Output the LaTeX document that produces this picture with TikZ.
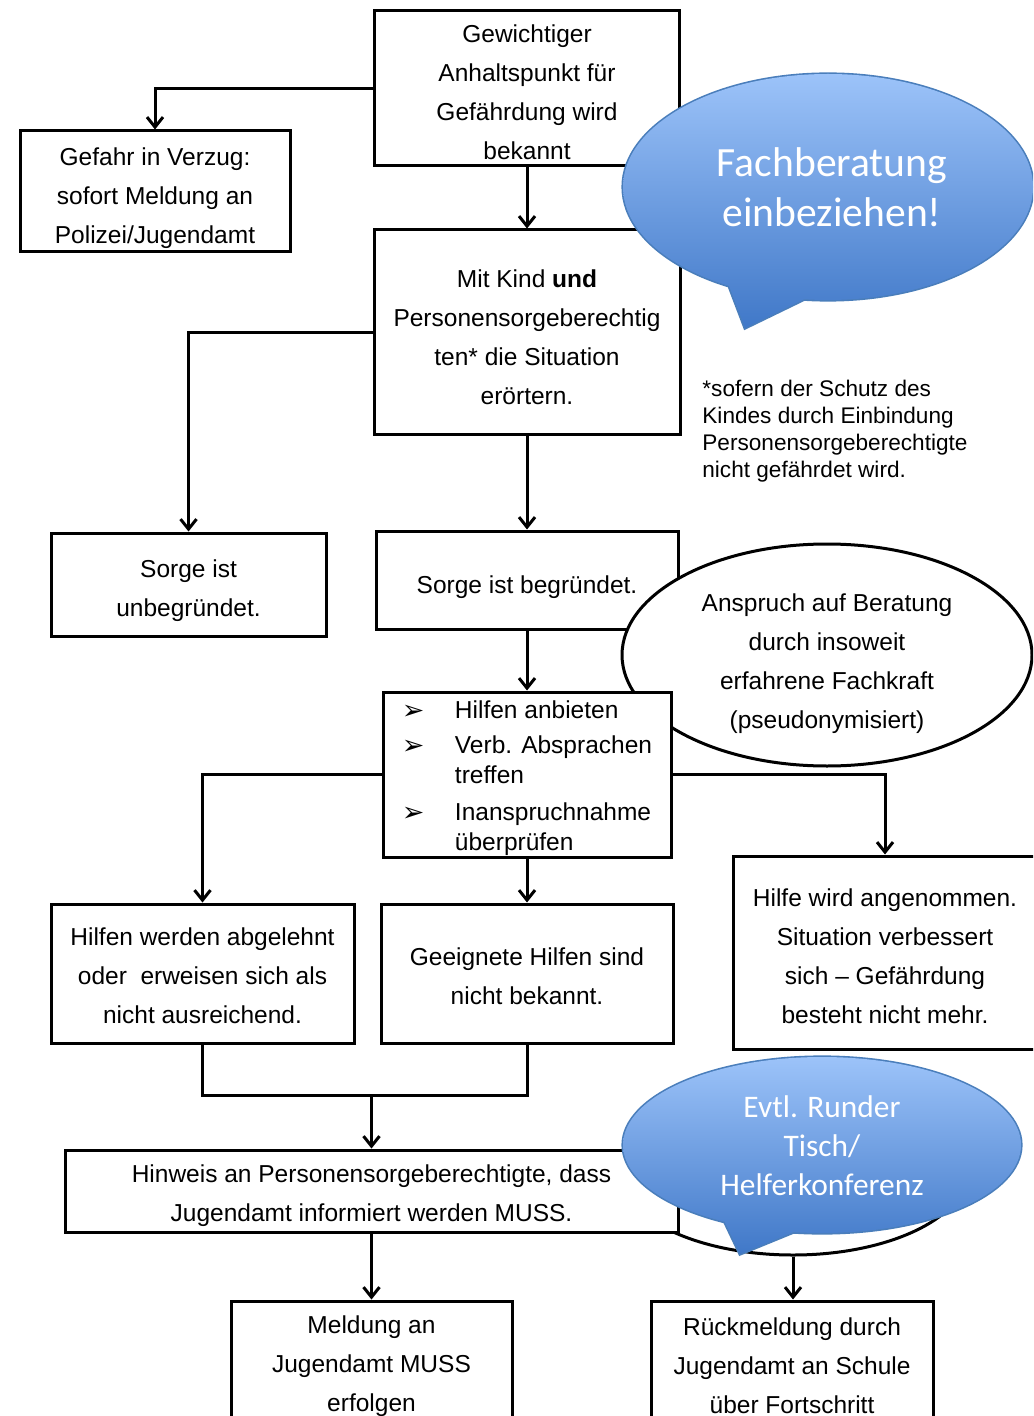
\documentclass[tikz,border=0pt]{standalone}
\usepackage{fontspec}
\setmainfont{Liberation Sans}
\newfontfamily\calibri{Carlito}
\newfontfamily\dejavu{DejaVu Sans}
\usetikzlibrary{arrows.meta, positioning, shapes.geometric}

\definecolor{bubbletop}{HTML}{9CC3F9}
\definecolor{bubblebottom}{HTML}{4078C8}
\definecolor{bubbleedge}{HTML}{4A7EBB}

\newcommand{\bul}{\makebox[26.5pt][l]{\dejavu\fontsize{13.5}{13.5}\selectfont\raisebox{-0.5pt}{➢}}}
\newcommand{\up}[1]{\rule{0pt}{#1}}

\tikzset{
    box/.style={draw, line width=1.5pt, fill=white, align=center, inner sep=0pt,
        font=\fontsize{12.25}{19.5}\selectfont},
    talk/.style={ellipse, draw, line width=1.5pt, fill=white, inner sep=0pt},
    plain/.style={align=center, inner sep=0pt, font=\fontsize{12.25}{19.5}\selectfont},
    bubbletext/.style={text=white, align=center, inner sep=0pt},
    bubbleshade/.style={top color=bubbletop, bottom color=bubblebottom},
    flow/.style={line width=1.5pt, -{Straight Barb[length=5pt, width=8pt]}}
}

\begin{document}
\begin{tikzpicture}[x=0.5pt, y=-0.5pt]
    \useasboundingbox (0,0) rectangle (1033,1416);
    \clip (0,0) rectangle (1033,1416);

    \node (tisch) [talk, minimum width=175pt, minimum height=85pt] at (793,1170) {};

    \node (gew) [box, minimum width=152.5pt, minimum height=77.5pt] at (527,88.5)
        {\up{12.9pt}Gewichtiger\\Anhaltspunkt für\\Gefährdung wird\\bekannt};
    \node (gefahr) [box, minimum width=135pt, minimum height=60.5pt] at (155,191.5)
        {\up{15.9pt}Gefahr in Verzug:\\sofort Meldung an\\Polizei/Jugendamt};
    \node (kind) [box, minimum width=153pt, minimum height=102.5pt] at (527,332.5)
        {\up{13.4pt}Mit Kind \textbf{und}\\Personensorgeberechtig\\ten* die Situation\\erörtern.};
    \node (unbeg) [box, minimum width=137.5pt, minimum height=51.5pt] at (188.5,584.5)
        {\up{14.9pt}Sorge ist\\unbegründet.};
    \node (beg) [box, minimum width=151pt, minimum height=49pt] at (527,580)
        {\up{15.9pt}Sorge ist begründet.};
    \node (anspruch) [talk, minimum width=205pt, minimum height=111pt] at (827,655) {};
    \node (anspruchtext) [plain] at (827,664)
        {Anspruch auf Beratung\\durch insoweit\\erfahrene Fachkraft\\(pseudonymisiert)};
    \node (hilfen) [box, align=left, minimum width=144pt, minimum height=82.5pt,
        font=\fontsize{12.25}{15}\selectfont] at (527,774.5)
        {\up{12.9pt}\bul Hilfen anbieten\\[2.5pt]\bul Verb. Absprachen\\\hspace*{26.5pt}treffen\\[3.5pt]\bul Inanspruchnahme\\\hspace*{26.5pt}überprüfen};
    \node (abgel) [box, minimum width=151.5pt, minimum height=69.5pt] at (202.5,973.5)
        {\up{10.9pt}Hilfen werden abgelehnt\\oder~ erweisen sich als\\nicht ausreichend.};
    \node (geeig) [box, minimum width=146pt, minimum height=69.5pt] at (527,973.5)
        {\up{11.9pt}Geeignete Hilfen sind\\nicht bekannt.};
    \node (angen) [box, minimum width=152pt, minimum height=96.5pt] at (885,952.5)
        {\up{12.9pt}Hilfe wird angenommen.\\Situation verbessert\\sich -- Gefährdung\\besteht nicht mehr.};
    \node (hinweis) [box, minimum width=306.5pt, minimum height=41pt] at (371.5,1191)
        {\up{13.9pt}Hinweis an Personensorgeberechtigte, dass\\Jugendamt informiert werden MUSS.};
    \node (meldung) [box, minimum width=140.5pt, minimum height=62pt] at (371.5,1363)
        {\up{11.9pt}Meldung an\\Jugendamt MUSS\\erfolgen};
    \node (rueck) [box, minimum width=141pt, minimum height=62pt] at (792,1363)
        {\up{11.9pt}Rückmeldung durch\\Jugendamt an Schule\\über Fortschritt};

    \coordinate (join) at (371.5,1095);

    \path[flow]
        (gew.south) edge (kind.north)
        (kind.south) edge (beg.north)
        (beg.south) edge (hilfen.north)
        (hilfen.south) edge (geeig.north)
        (join) edge (hinweis.north)
        (hinweis.south) edge (meldung.north)
        (tisch.south) edge (tisch.south |- rueck.north);
    \draw[flow] (gew.west) -| (gefahr.north);
    \draw[flow] (kind.west) -| (unbeg.north);
    \draw[flow] (hilfen.west) -| (abgel.north);
    \draw[flow] (hilfen.east) -| (angen.north);
    \draw[line width=1.5pt] (abgel.south) -- (abgel.south |- join) -- (geeig.south |- join) -- (geeig.south);

    \path[draw=bubbleedge, line width=1.6pt]
        (828,187) ellipse [x radius=205, y radius=113]
        (815,294) -- (745,328) -- (726,278) -- cycle;
    \path[bubbleshade]
        (828,187) ellipse [x radius=205, y radius=113]
        (815,294) -- (745,328) -- (726,278) -- cycle;
    \node (fachtext) [bubbletext, font=\calibri\fontsize{20.8}{25}\selectfont] at (832,187)
        {Fachberatung\\einbeziehen!};

    \path[draw=bubbleedge, line width=1.6pt]
        (822,1145) ellipse [x radius=199, y radius=88]
        (806,1227) -- (740,1254) -- (720,1212) -- cycle;
    \path[bubbleshade]
        (822,1145) ellipse [x radius=199, y radius=88]
        (806,1227) -- (740,1254) -- (720,1212) -- cycle;
    \node (tischtext) [bubbletext, font=\calibri\fontsize{15.7}{19.5}\selectfont] at (822,1146)
        {Evtl. Runder\\Tisch/\\Helferkonferenz};

    \node (fussnote) [anchor=north west, align=left, inner sep=0pt,
        font=\fontsize{11.3}{13.5}\selectfont] at (702,380)
        {*sofern der Schutz des\\Kindes durch Einbindung\\Personensorgeberechtigte\\nicht gefährdet wird.};
\end{tikzpicture}
\end{document}
